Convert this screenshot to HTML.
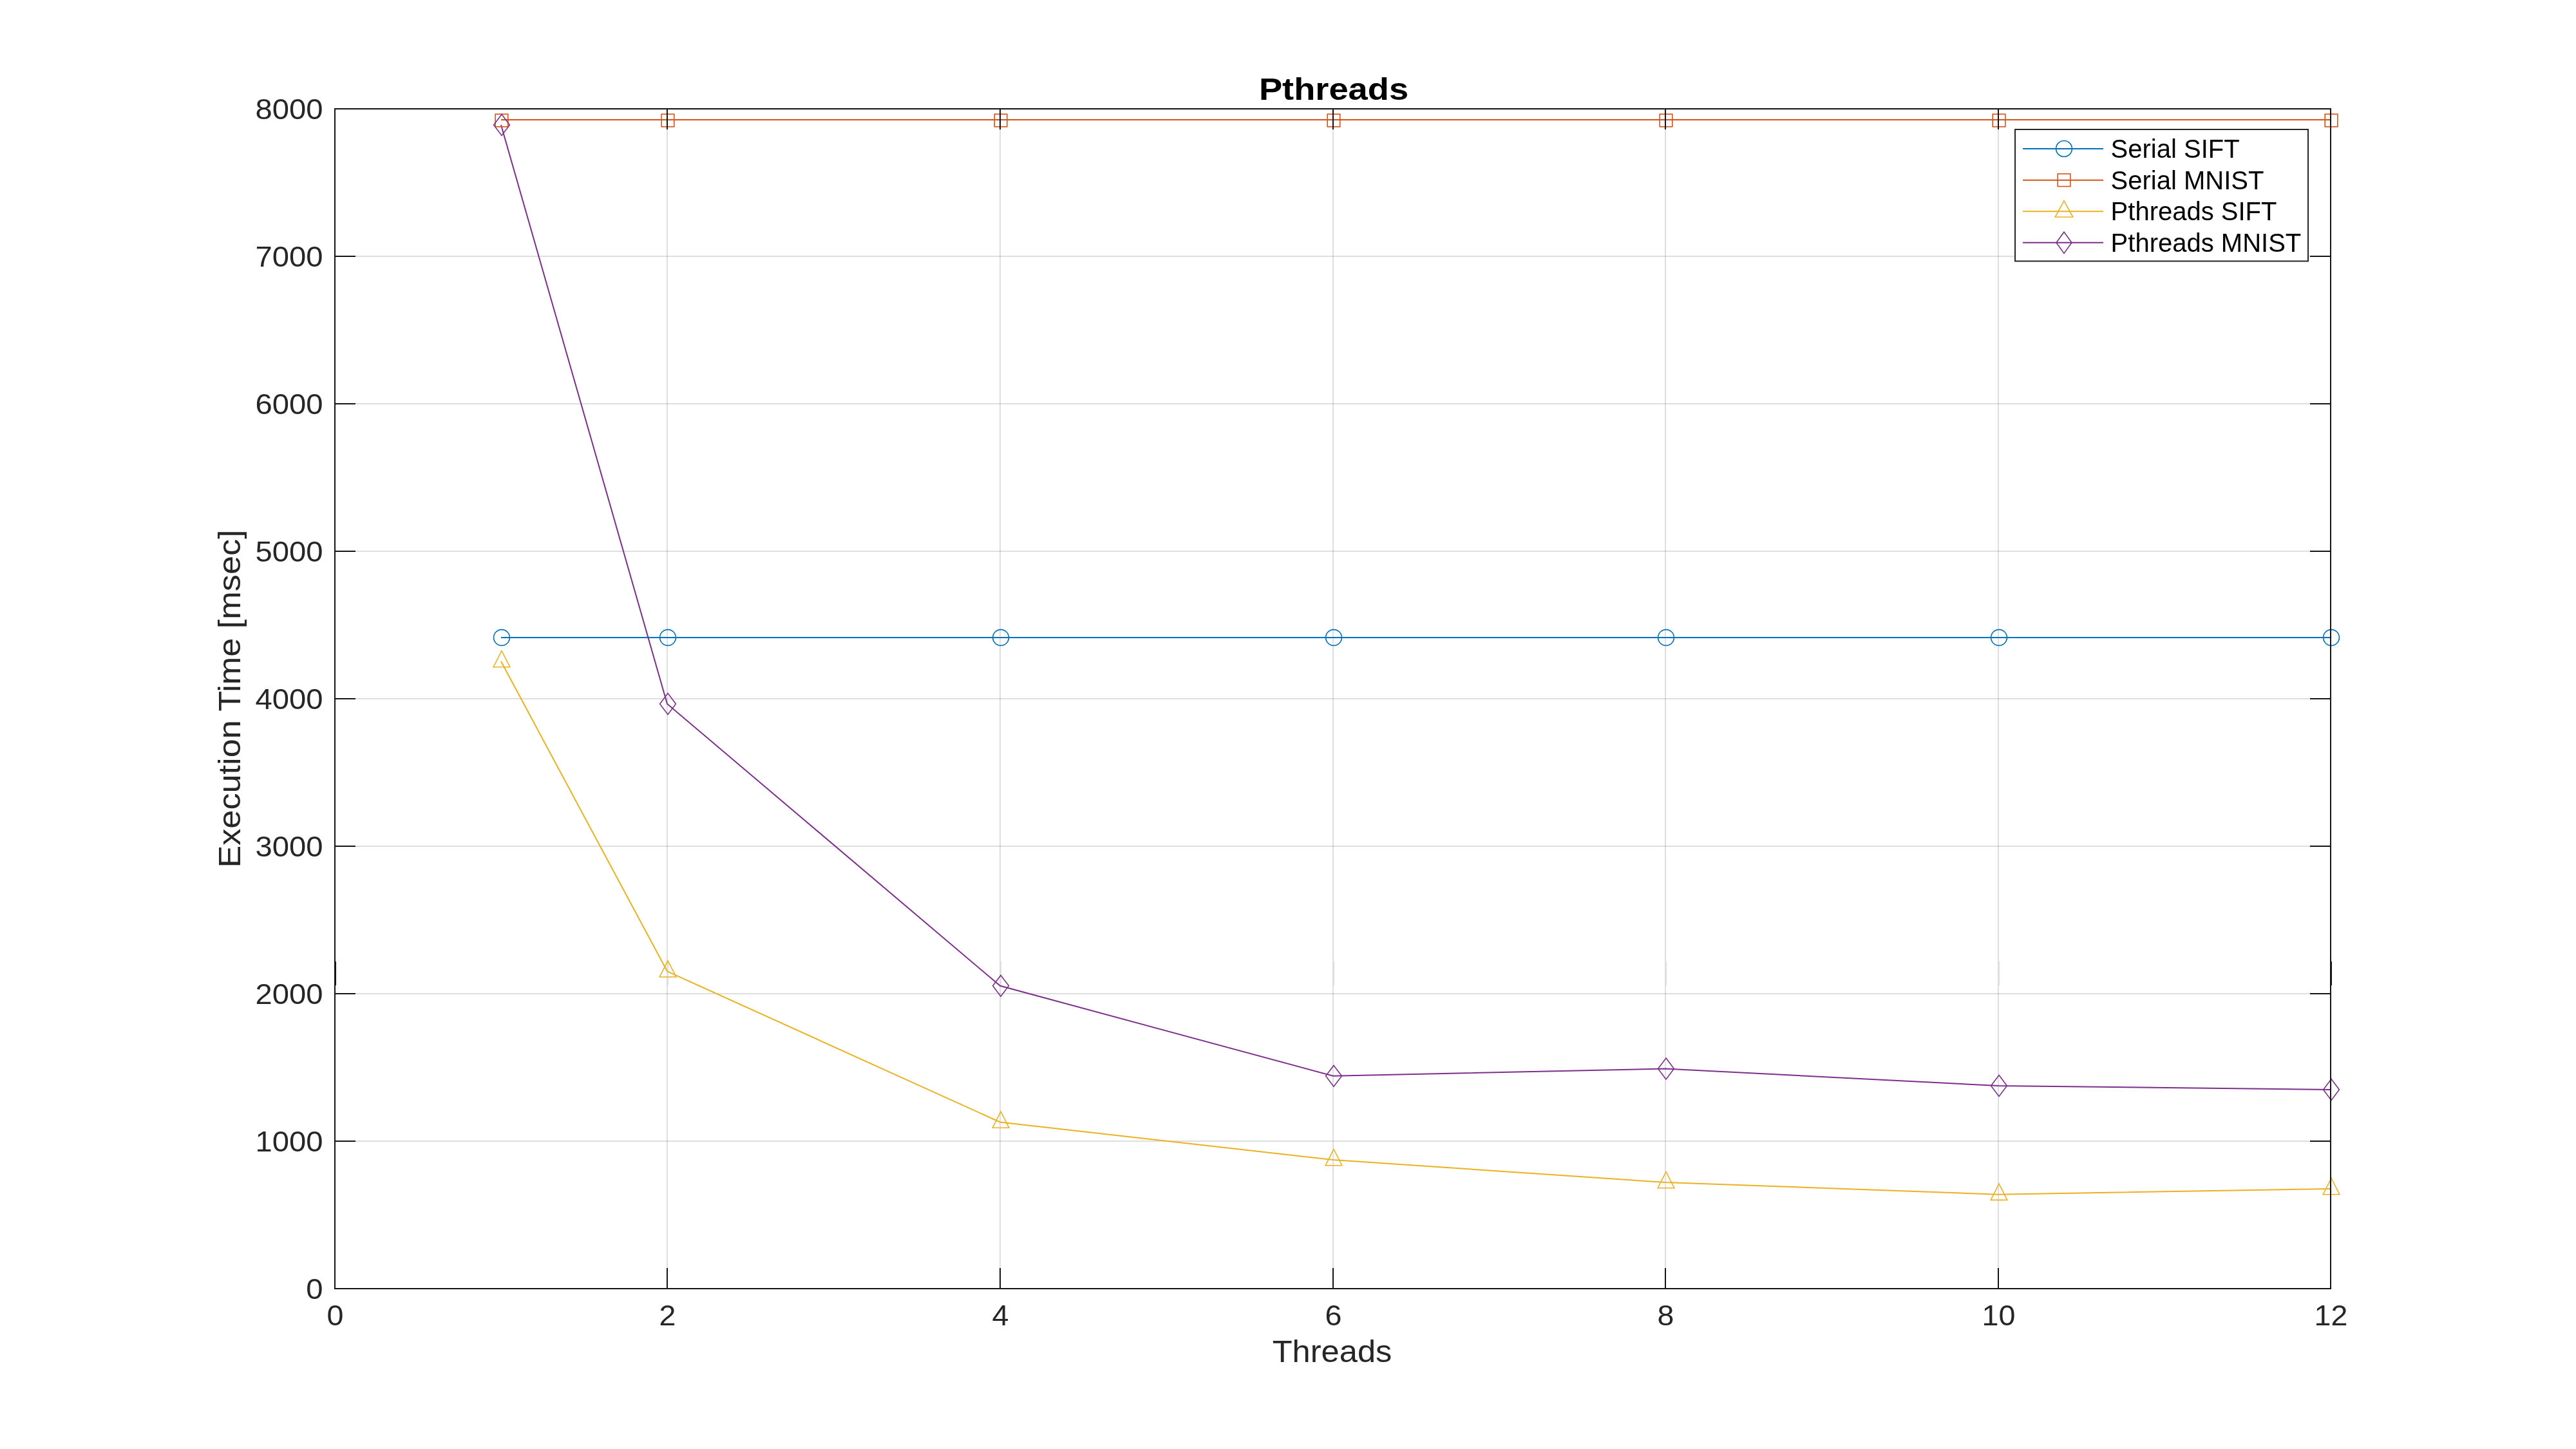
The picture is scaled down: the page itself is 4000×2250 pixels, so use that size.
<!DOCTYPE html><html><head><meta charset="utf-8"><style>html,body{margin:0;padding:0;background:#fff;overflow:hidden}svg{display:block;will-change:transform}</style></head><body>
<svg width="4000" height="2250" viewBox="0 0 4000 2250">
<rect x="0" y="0" width="4000" height="2250" fill="#ffffff"/>
<path d="M1036 169.0V2001.0 M1553 169.0V2001.0 M2070 169.0V2001.0 M2586 169.0V2001.0 M3103 169.0V2001.0" stroke="#262626" stroke-opacity="0.15" stroke-width="2" fill="none"/>
<path d="M520.0 1772H3619.0 M520.0 1543H3619.0 M520.0 1314H3619.0 M520.0 1085H3619.0 M520.0 856H3619.0 M520.0 627H3619.0 M520.0 398H3619.0" stroke="#262626" stroke-opacity="0.15" stroke-width="2" fill="none"/>
<rect x="1037" y="1493" width="1" height="37" fill="#262626" fill-opacity="0.15"/><rect x="1554" y="1493" width="1" height="37" fill="#262626" fill-opacity="0.15"/><rect x="2071" y="1493" width="1" height="37" fill="#262626" fill-opacity="0.15"/><rect x="2587" y="1493" width="1" height="37" fill="#262626" fill-opacity="0.15"/><rect x="3104" y="1493" width="1" height="37" fill="#262626" fill-opacity="0.15"/>
<polyline points="778,990.00 1036,990.00 1553,990.00 2070,990.00 2586,990.00 3103,990.00 3619,990.00" stroke="#0072BD" stroke-width="2" fill="none" stroke-linejoin="miter"/>
<polyline points="778,186.00 1036,186.00 1553,186.00 2070,186.00 2586,186.00 3103,186.00 3619,186.00" stroke="#D95319" stroke-width="2" fill="none" stroke-linejoin="miter"/>
<polyline points="778,1027.00 1036,1508.30 1553,1742.50 2070,1801.00 2586,1836.00 3103,1854.70 3619,1846.00" stroke="#EDB120" stroke-width="2" fill="none" stroke-linejoin="miter"/>
<polyline points="778,194.00 1036,1093.00 1553,1530.80 2070,1670.80 2586,1659.50 3103,1686.00 3619,1692.00" stroke="#7E2F8E" stroke-width="2" fill="none" stroke-linejoin="miter"/>
<circle cx="779.00" cy="990.00" r="12.4" stroke="#0072BD" stroke-width="1.6" fill="none"/>
<circle cx="1037.00" cy="990.00" r="12.4" stroke="#0072BD" stroke-width="1.6" fill="none"/>
<circle cx="1554.00" cy="990.00" r="12.4" stroke="#0072BD" stroke-width="1.6" fill="none"/>
<circle cx="2071.00" cy="990.00" r="12.4" stroke="#0072BD" stroke-width="1.6" fill="none"/>
<circle cx="2587.00" cy="990.00" r="12.4" stroke="#0072BD" stroke-width="1.6" fill="none"/>
<circle cx="3104.00" cy="990.00" r="12.4" stroke="#0072BD" stroke-width="1.6" fill="none"/>
<circle cx="3620.00" cy="990.00" r="12.4" stroke="#0072BD" stroke-width="1.6" fill="none"/>
<rect x="769.20" y="177.20" width="19.60" height="19.60" stroke="#D95319" stroke-width="1.6" fill="none"/>
<rect x="1027.20" y="177.20" width="19.60" height="19.60" stroke="#D95319" stroke-width="1.6" fill="none"/>
<rect x="1544.20" y="177.20" width="19.60" height="19.60" stroke="#D95319" stroke-width="1.6" fill="none"/>
<rect x="2061.20" y="177.20" width="19.60" height="19.60" stroke="#D95319" stroke-width="1.6" fill="none"/>
<rect x="2577.20" y="177.20" width="19.60" height="19.60" stroke="#D95319" stroke-width="1.6" fill="none"/>
<rect x="3094.20" y="177.20" width="19.60" height="19.60" stroke="#D95319" stroke-width="1.6" fill="none"/>
<rect x="3610.20" y="177.20" width="19.60" height="19.60" stroke="#D95319" stroke-width="1.6" fill="none"/>
<path d="M779.00 1010.50L791.80 1035.70L766.20 1035.70Z" stroke="#EDB120" stroke-width="1.6" fill="none"/>
<path d="M1037.00 1491.80L1049.80 1517.00L1024.20 1517.00Z" stroke="#EDB120" stroke-width="1.6" fill="none"/>
<path d="M1554.00 1726.00L1566.80 1751.20L1541.20 1751.20Z" stroke="#EDB120" stroke-width="1.6" fill="none"/>
<path d="M2071.00 1784.50L2083.80 1809.70L2058.20 1809.70Z" stroke="#EDB120" stroke-width="1.6" fill="none"/>
<path d="M2587.00 1819.50L2599.80 1844.70L2574.20 1844.70Z" stroke="#EDB120" stroke-width="1.6" fill="none"/>
<path d="M3104.00 1838.20L3116.80 1863.40L3091.20 1863.40Z" stroke="#EDB120" stroke-width="1.6" fill="none"/>
<path d="M3620.00 1829.50L3632.80 1854.70L3607.20 1854.70Z" stroke="#EDB120" stroke-width="1.6" fill="none"/>
<path d="M779.00 177.60L791.40 194.00L779.00 210.40L766.60 194.00Z" stroke="#7E2F8E" stroke-width="1.6" fill="none"/>
<path d="M1037.00 1076.60L1049.40 1093.00L1037.00 1109.40L1024.60 1093.00Z" stroke="#7E2F8E" stroke-width="1.6" fill="none"/>
<path d="M1554.00 1514.40L1566.40 1530.80L1554.00 1547.20L1541.60 1530.80Z" stroke="#7E2F8E" stroke-width="1.6" fill="none"/>
<path d="M2071.00 1654.40L2083.40 1670.80L2071.00 1687.20L2058.60 1670.80Z" stroke="#7E2F8E" stroke-width="1.6" fill="none"/>
<path d="M2587.00 1643.10L2599.40 1659.50L2587.00 1675.90L2574.60 1659.50Z" stroke="#7E2F8E" stroke-width="1.6" fill="none"/>
<path d="M3104.00 1669.60L3116.40 1686.00L3104.00 1702.40L3091.60 1686.00Z" stroke="#7E2F8E" stroke-width="1.6" fill="none"/>
<path d="M3620.00 1675.60L3632.40 1692.00L3620.00 1708.40L3607.60 1692.00Z" stroke="#7E2F8E" stroke-width="1.6" fill="none"/>
<path d="M520 2001.0V1969.0 M520 169.0V201.0 M1036 2001.0V1969.0 M1036 169.0V201.0 M1553 2001.0V1969.0 M1553 169.0V201.0 M2070 2001.0V1969.0 M2070 169.0V201.0 M2586 2001.0V1969.0 M2586 169.0V201.0 M3103 2001.0V1969.0 M3103 169.0V201.0 M3619 2001.0V1969.0 M3619 169.0V201.0 M520.0 2001H552.0 M3619.0 2001H3587.0 M520.0 1772H552.0 M3619.0 1772H3587.0 M520.0 1543H552.0 M3619.0 1543H3587.0 M520.0 1314H552.0 M3619.0 1314H3587.0 M520.0 1085H552.0 M3619.0 1085H3587.0 M520.0 856H552.0 M3619.0 856H3587.0 M520.0 627H552.0 M3619.0 627H3587.0 M520.0 398H552.0 M3619.0 398H3587.0 M520.0 169H552.0 M3619.0 169H3587.0" stroke="#151515" stroke-width="2" fill="none"/>
<rect x="520.0" y="169.0" width="3099.0" height="1832.0" stroke="#151515" stroke-width="2" fill="none"/>
<rect x="521.0" y="1493" width="1" height="37" fill="#151515"/><rect x="3620.0" y="1493" width="1" height="37" fill="#151515"/>
<text transform="translate(520.5 2057.7) scale(1.05 1)" font-family='"Liberation Sans", sans-serif' font-size="44.4" fill="#262626" text-anchor="middle">0</text>
<text transform="translate(1036.5 2057.7) scale(1.05 1)" font-family='"Liberation Sans", sans-serif' font-size="44.4" fill="#262626" text-anchor="middle">2</text>
<text transform="translate(1553.5 2057.7) scale(1.05 1)" font-family='"Liberation Sans", sans-serif' font-size="44.4" fill="#262626" text-anchor="middle">4</text>
<text transform="translate(2070.5 2057.7) scale(1.05 1)" font-family='"Liberation Sans", sans-serif' font-size="44.4" fill="#262626" text-anchor="middle">6</text>
<text transform="translate(2586.5 2057.7) scale(1.05 1)" font-family='"Liberation Sans", sans-serif' font-size="44.4" fill="#262626" text-anchor="middle">8</text>
<text transform="translate(3103.5 2057.7) scale(1.05 1)" font-family='"Liberation Sans", sans-serif' font-size="44.4" fill="#262626" text-anchor="middle">10</text>
<text transform="translate(3619.5 2057.7) scale(1.05 1)" font-family='"Liberation Sans", sans-serif' font-size="44.4" fill="#262626" text-anchor="middle">12</text>
<text transform="translate(501.5 2016.70) scale(1.063 1)" font-family='"Liberation Sans", sans-serif' font-size="44.4" fill="#262626" text-anchor="end">0</text>
<text transform="translate(501.5 1787.70) scale(1.063 1)" font-family='"Liberation Sans", sans-serif' font-size="44.4" fill="#262626" text-anchor="end">1000</text>
<text transform="translate(501.5 1558.70) scale(1.063 1)" font-family='"Liberation Sans", sans-serif' font-size="44.4" fill="#262626" text-anchor="end">2000</text>
<text transform="translate(501.5 1329.70) scale(1.063 1)" font-family='"Liberation Sans", sans-serif' font-size="44.4" fill="#262626" text-anchor="end">3000</text>
<text transform="translate(501.5 1100.70) scale(1.063 1)" font-family='"Liberation Sans", sans-serif' font-size="44.4" fill="#262626" text-anchor="end">4000</text>
<text transform="translate(501.5 871.70) scale(1.063 1)" font-family='"Liberation Sans", sans-serif' font-size="44.4" fill="#262626" text-anchor="end">5000</text>
<text transform="translate(501.5 642.70) scale(1.063 1)" font-family='"Liberation Sans", sans-serif' font-size="44.4" fill="#262626" text-anchor="end">6000</text>
<text transform="translate(501.5 413.70) scale(1.063 1)" font-family='"Liberation Sans", sans-serif' font-size="44.4" fill="#262626" text-anchor="end">7000</text>
<text transform="translate(501.5 184.70) scale(1.063 1)" font-family='"Liberation Sans", sans-serif' font-size="44.4" fill="#262626" text-anchor="end">8000</text>
<text transform="translate(2068.5 2115) scale(1.064 1)" font-family='"Liberation Sans", sans-serif' font-size="47.6" fill="#262626" text-anchor="middle">Threads</text>
<text transform="translate(372.9 1085) rotate(-90) scale(1.097 1)" font-family='"Liberation Sans", sans-serif' font-size="47.6" fill="#262626" text-anchor="middle">Execution Time [msec]</text>
<text transform="translate(2071 155.2) scale(1.14 1)" font-family='"Liberation Sans", sans-serif' font-size="47.6" font-weight="bold" fill="#000" text-anchor="middle">Pthreads</text>
<rect x="3129" y="201" width="455" height="204.5" fill="#fff" stroke="#262626" stroke-width="2"/>
<path d="M3141 230.90H3266" stroke="#0072BD" stroke-width="2"/>
<circle cx="3205.00" cy="230.90" r="12.4" stroke="#0072BD" stroke-width="1.6" fill="none"/>
<text x="3277.6" y="244.70" font-family='"Liberation Sans", sans-serif' font-size="40" fill="#000">Serial SIFT</text>
<path d="M3141 279.70H3266" stroke="#D95319" stroke-width="2"/>
<rect x="3195.20" y="269.90" width="19.60" height="19.60" stroke="#D95319" stroke-width="1.6" fill="none"/>
<text x="3277.6" y="293.50" font-family='"Liberation Sans", sans-serif' font-size="40" fill="#000">Serial MNIST</text>
<path d="M3141 328.30H3266" stroke="#EDB120" stroke-width="2"/>
<path d="M3205.00 311.80L3218.80 337.00L3191.20 337.00Z" stroke="#EDB120" stroke-width="1.6" fill="none"/>
<text x="3277.6" y="342.10" font-family='"Liberation Sans", sans-serif' font-size="40" fill="#000">Pthreads SIFT</text>
<path d="M3141 376.80H3266" stroke="#7E2F8E" stroke-width="2"/>
<path d="M3205.00 360.20L3217.00 376.80L3205.00 393.40L3193.00 376.80Z" stroke="#7E2F8E" stroke-width="1.6" fill="none"/>
<text x="3277.6" y="390.60" font-family='"Liberation Sans", sans-serif' font-size="40" fill="#000">Pthreads MNIST</text>
</svg></body></html>
